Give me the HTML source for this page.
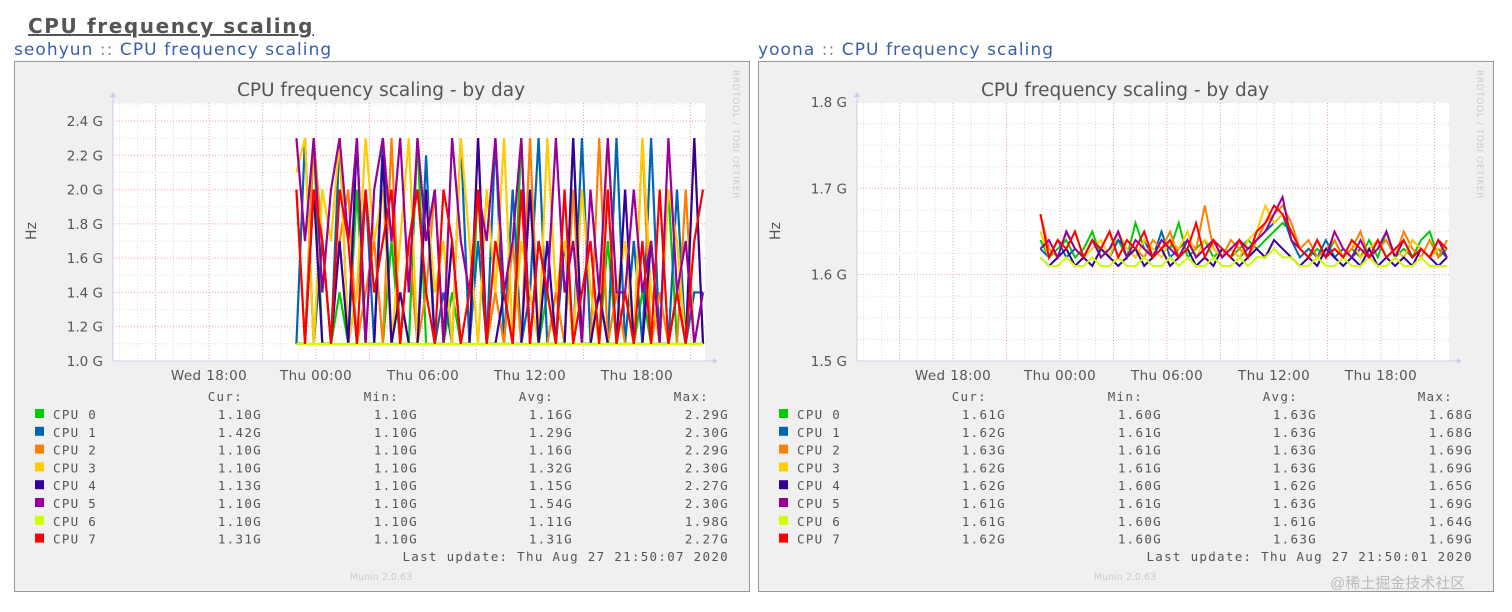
<!DOCTYPE html>
<html><head><meta charset="utf-8">
<style>
html,body{margin:0;padding:0;background:#fff;width:1512px;height:612px;overflow:hidden}
svg{display:block}
</style></head>
<body>
<svg id="root" width="1512" height="612" xmlns="http://www.w3.org/2000/svg">
<text x="28" y="33" font-family="DejaVu Sans, Liberation Sans, sans-serif" font-size="20" font-weight="bold" fill="#555" text-decoration="underline" letter-spacing="1.6">CPU frequency scaling</text>
<text x="14" y="55" font-family="DejaVu Sans, Liberation Sans, sans-serif" font-size="17" fill="#3a5ea8" letter-spacing="1.05">seohyun <tspan fill="#888">::</tspan> CPU frequency scaling</text>
<text x="758" y="55" font-family="DejaVu Sans, Liberation Sans, sans-serif" font-size="17" fill="#3a5ea8" letter-spacing="1.05">yoona <tspan fill="#888">::</tspan> CPU frequency scaling</text>
<g id="c1"></g>
<g id="c2"></g>
<text x="1330" y="588" font-family="Liberation Sans, Noto Sans CJK SC, sans-serif" font-size="15" fill="#bbb">@稀土掘金技术社区</text>
</svg>
<script>
const cpuNames = ["CPU 0","CPU 1","CPU 2","CPU 3","CPU 4","CPU 5","CPU 6","CPU 7"];
const cpuColors = ["#00cc00","#0066b3","#ff8000","#ffcc00","#330099","#990099","#ccff00","#ff0000"];
const timeLabels = ["Wed 18:00","Thu 00:00","Thu 06:00","Thu 12:00","Thu 18:00"];
const timeLabelHours = [0,6,12,18,24];
const dataStartHour = 4.9;
const dataEndHour = 27.7;

const leftTicks = [1.0,1.2,1.4,1.6,1.8,2.0,2.2,2.4];
const leftS0 = [1.1,1.1,2.3,1.1,1.1,1.4,1.1,2.0,1.1,1.1,1.1,1.7,1.1,1.1,2.3,1.1,1.1,1.1,1.4,1.1,1.1,2.0,1.1,1.1,1.1,1.1,2.3,1.1,1.1,1.4,1.1,1.1,2.3,1.1,1.1,1.1,1.7,1.1,1.1,1.1,1.4,1.1,1.1,2.0,1.1,1.1,1.1,1.1];
const leftS1 = [1.1,2.3,1.1,1.7,1.1,2.3,1.1,1.4,2.0,1.1,2.3,1.1,1.1,1.7,1.1,2.2,1.1,1.4,1.1,2.3,1.1,1.7,1.1,2.3,1.1,2.0,1.1,1.4,2.3,1.1,1.1,1.7,1.1,2.3,1.1,1.4,1.1,2.3,1.1,1.7,1.1,2.3,1.1,1.1,2.0,1.1,1.4,1.4];
const leftS2 = [2.0,1.1,2.3,1.7,1.1,1.7,2.0,1.1,1.4,1.7,1.1,2.3,1.1,1.7,1.1,1.4,2.0,1.1,1.7,1.1,1.1,2.3,1.1,1.4,1.1,1.7,1.1,2.3,1.1,1.1,1.4,1.1,2.0,1.1,1.1,2.3,1.1,1.4,1.1,1.1,2.3,1.1,1.4,1.1,1.1,2.0,1.1,1.1];
const leftS3 = [2.1,2.3,1.1,2.0,1.7,2.3,1.1,1.4,2.3,1.7,2.0,1.1,1.7,2.3,1.1,2.0,1.4,1.7,1.1,2.3,1.7,1.1,2.0,1.4,2.3,1.1,1.7,1.4,1.1,2.3,1.4,1.7,1.1,2.0,1.4,1.1,2.3,1.4,1.7,1.1,2.3,1.4,1.1,2.0,1.7,1.1,2.3,1.1];
const leftS4 = [1.1,1.1,2.0,1.1,1.1,1.7,1.1,2.3,1.1,1.1,2.2,1.1,1.4,1.1,1.1,2.0,1.1,1.1,1.7,1.1,1.1,2.3,1.1,1.1,1.4,1.1,1.1,2.0,1.1,1.7,1.1,1.1,2.3,1.1,1.1,1.4,1.1,1.1,2.0,1.1,1.1,1.7,1.1,1.1,1.4,1.1,2.3,1.1];
const leftS5 = [2.3,1.7,2.3,1.4,2.0,2.3,1.7,2.3,1.1,2.0,2.3,1.7,2.3,1.4,2.3,1.7,2.0,1.1,2.3,1.7,1.4,2.0,1.7,2.3,1.4,1.7,2.3,1.1,1.7,1.4,2.3,1.4,1.7,1.1,2.0,1.4,2.3,1.4,1.4,2.0,1.4,1.7,1.1,2.3,1.4,1.7,1.1,1.4];
const leftS6 = [1.1,1.1,1.1,1.1,1.1,1.1,1.1,1.1,1.1,1.1,1.1,1.1,1.1,1.1,1.1,1.1,1.1,1.1,1.1,1.1,1.1,1.1,1.1,1.1,1.1,1.1,1.1,1.1,1.1,1.1,1.1,1.1,1.1,1.1,1.1,1.1,1.1,1.1,1.1,1.1,1.1,1.1,1.1,1.1,1.1,1.1,1.1,1.1];
const leftS7 = [2.0,1.1,2.0,1.7,1.1,2.0,1.7,1.1,2.0,1.4,1.7,2.0,1.1,1.7,2.0,1.4,1.1,2.0,1.7,1.1,1.4,2.0,1.1,1.7,1.4,1.1,2.0,1.1,1.7,1.4,1.1,2.0,1.1,1.4,1.7,1.1,2.0,1.1,1.4,1.1,1.7,1.1,2.0,1.1,1.4,1.1,1.7,2.0];
const leftCur = ["1.10G","1.42G","1.10G","1.10G","1.13G","1.10G","1.10G","1.31G"];
const leftMin = ["1.10G","1.10G","1.10G","1.10G","1.10G","1.10G","1.10G","1.10G"];
const leftAvg = ["1.16G","1.29G","1.16G","1.32G","1.15G","1.54G","1.11G","1.31G"];
const leftMax = ["2.29G","2.30G","2.29G","2.30G","2.27G","2.30G","1.98G","2.27G"];

const rightTicks = [1.5,1.6,1.7,1.8];
const rightS0 = [1.64,1.62,1.63,1.64,1.62,1.63,1.65,1.62,1.63,1.64,1.62,1.66,1.63,1.62,1.64,1.63,1.66,1.62,1.63,1.64,1.62,1.63,1.62,1.63,1.64,1.63,1.64,1.65,1.66,1.65,1.63,1.62,1.63,1.62,1.64,1.62,1.63,1.62,1.64,1.62,1.65,1.62,1.63,1.62,1.64,1.65,1.62,1.63];
const rightS1 = [1.63,1.62,1.64,1.62,1.63,1.62,1.64,1.63,1.62,1.64,1.63,1.62,1.64,1.62,1.65,1.62,1.63,1.64,1.62,1.63,1.64,1.62,1.63,1.62,1.63,1.64,1.65,1.66,1.67,1.64,1.62,1.63,1.62,1.64,1.62,1.63,1.62,1.63,1.62,1.64,1.62,1.63,1.62,1.64,1.63,1.62,1.63,1.62];
const rightS2 = [1.67,1.63,1.62,1.65,1.63,1.62,1.64,1.63,1.65,1.62,1.64,1.63,1.62,1.64,1.63,1.65,1.62,1.64,1.63,1.68,1.63,1.62,1.64,1.63,1.62,1.64,1.66,1.67,1.68,1.66,1.63,1.64,1.62,1.63,1.64,1.62,1.63,1.65,1.62,1.63,1.64,1.62,1.65,1.63,1.62,1.64,1.62,1.64];
const rightS3 = [1.65,1.62,1.64,1.63,1.65,1.62,1.63,1.64,1.62,1.65,1.63,1.62,1.64,1.63,1.62,1.64,1.63,1.65,1.62,1.64,1.63,1.62,1.63,1.62,1.64,1.65,1.68,1.66,1.67,1.65,1.63,1.62,1.64,1.62,1.63,1.62,1.64,1.62,1.63,1.64,1.62,1.63,1.62,1.64,1.63,1.62,1.63,1.63];
const rightS4 = [1.62,1.61,1.62,1.63,1.61,1.62,1.61,1.63,1.62,1.61,1.62,1.63,1.61,1.62,1.63,1.61,1.62,1.63,1.61,1.62,1.61,1.63,1.62,1.61,1.62,1.63,1.62,1.64,1.63,1.62,1.61,1.62,1.61,1.63,1.62,1.61,1.62,1.61,1.63,1.61,1.62,1.61,1.62,1.61,1.63,1.62,1.61,1.62];
const rightS5 = [1.63,1.64,1.62,1.65,1.63,1.62,1.64,1.62,1.63,1.65,1.62,1.64,1.63,1.62,1.64,1.63,1.62,1.64,1.62,1.63,1.64,1.62,1.63,1.64,1.63,1.64,1.65,1.67,1.69,1.64,1.63,1.62,1.64,1.62,1.65,1.63,1.62,1.64,1.62,1.63,1.65,1.62,1.64,1.62,1.63,1.62,1.64,1.62];
const rightS6 = [1.62,1.61,1.61,1.62,1.61,1.61,1.62,1.61,1.61,1.62,1.61,1.61,1.62,1.61,1.61,1.62,1.61,1.62,1.61,1.61,1.62,1.61,1.61,1.62,1.61,1.62,1.62,1.63,1.62,1.62,1.61,1.61,1.62,1.61,1.61,1.62,1.61,1.61,1.62,1.61,1.61,1.62,1.61,1.61,1.62,1.61,1.61,1.61];
const rightS7 = [1.67,1.62,1.64,1.63,1.65,1.62,1.64,1.63,1.65,1.62,1.64,1.63,1.65,1.62,1.63,1.64,1.62,1.63,1.66,1.62,1.64,1.63,1.62,1.64,1.62,1.65,1.66,1.68,1.67,1.65,1.63,1.62,1.64,1.62,1.63,1.62,1.64,1.63,1.62,1.64,1.62,1.63,1.64,1.62,1.63,1.62,1.64,1.63];
const rightCur = ["1.61G","1.62G","1.63G","1.62G","1.62G","1.61G","1.61G","1.62G"];
const rightMin = ["1.60G","1.61G","1.61G","1.61G","1.60G","1.61G","1.60G","1.60G"];
const rightAvg = ["1.63G","1.63G","1.63G","1.63G","1.62G","1.63G","1.61G","1.63G"];
const rightMax = ["1.68G","1.68G","1.69G","1.69G","1.65G","1.69G","1.64G","1.69G"];

const NS = "http://www.w3.org/2000/svg";
function mk(parent, tag, attrs, text){
  const e = document.createElementNS(NS, tag);
  for (const k in attrs) e.setAttribute(k, attrs[k]);
  if (text !== undefined) e.textContent = text;
  parent.appendChild(e);
  return e;
}

function drawChart(g, ox, series, ticks, tickStep, minorStep, cur, mn, avg, mx, lastUpdate, lineW){
  const L = ox + 113, R = ox + 705, B = 361, T = 103;
  const vMin = ticks[0], vMax = ticks[ticks.length-1];
  const topTickY = ticks.length > 4 ? 121 : 102;
  const yScale = v => B - (v - vMin) / (vMax - vMin) * (B - topTickY);
  const xScale = h => ox + 209 + h * (107 / 6);
  const sans = "DejaVu Sans, sans-serif";

  const panel = mk(g, "rect", {x: ox+14.5, y: 61.5, width: 735, height: 530, fill: "#f0f0f0", stroke: "#999"});
  
  
  const plot = mk(g, "rect", {x: L, y: T, width: R-L, height: B-T, fill: "#fff"});
  
  

  for (let h = -5; h <= 29; h++){
    const x = xScale(h);
    if (x <= L || x >= R) continue;
    const major = ((h % 3) + 3) % 3 === 0;
    mk(g, "line", {x1: x, x2: x, y1: T, y2: B, stroke: major ? "#f2a0a0" : "#ddd", "stroke-width": 1, "stroke-dasharray": "1,2"});
  }
  for (let v = vMin; v <= vMax + 0.0001 + (ticks.length>4?0.1:0); v += minorStep){
    const y = yScale(v);
    if (y < T) continue;
    const isMajor = Math.abs(((v - vMin) / tickStep) - Math.round((v - vMin) / tickStep)) < 0.01;
    mk(g, "line", {x1: L, x2: R, y1: y, y2: y, stroke: isMajor ? "#f2a0a0" : "#ddd", "stroke-width": 1, "stroke-dasharray": "1,2"});
  }
  mk(g, "line", {x1: L, x2: R+8, y1: B, y2: B, stroke: "#ccccee", "stroke-width": 1});
  mk(g, "line", {x1: L, x2: L, y1: B, y2: T-8, stroke: "#ccccee", "stroke-width": 1});
  mk(g, "path", {d: `M${R+8} ${B-3} L${R+13} ${B} L${R+8} ${B+3} Z`, fill: "#ccccee"});
  mk(g, "path", {d: `M${L-3} ${T-6} L${L} ${T-11} L${L+3} ${T-6} Z`, fill: "#ccccee"});

  ticks.forEach(v => {
    const t = mk(g, "text", {x: ox+103, y: yScale(v)+5, "text-anchor": "end", "font-family": sans, "font-size": 13.5, fill: "#555"}, v.toFixed(1) + " G");
    
    
  });
  timeLabels.forEach((lab, i) => {
    const t = mk(g, "text", {x: xScale(timeLabelHours[i]), y: 380, "text-anchor": "middle", "font-family": sans, "font-size": 13.5, "letter-spacing": 0.4, fill: "#555"}, lab);
    
    
  });
  const yt = mk(g, "text", {x: ox+36, y: 231, transform: `rotate(-90 ${ox+36} 231)`, "text-anchor": "middle", "font-family": sans, "font-size": 14, fill: "#555"}, "Hz");
  
  
  const ct = mk(g, "text", {x: ox+381, y: 96, "text-anchor": "middle", "font-family": sans, "font-size": 18.5, fill: "#555"}, "CPU frequency scaling - by day");
  
  
  const rr = mk(g, "text", {x: ox+733, y: 70, transform: `rotate(90 ${ox+733} 70)`, "font-family": sans, "font-size": 9, "letter-spacing": 0.6, fill: "#ccc"}, "RRDTOOL / TOBI OETIKER");
  
  

  series.forEach((vals, si) => {
    const n = vals.length;
    const pts = vals.map((v, i) => xScale(dataStartHour + (dataEndHour - dataStartHour) * i / (n - 1)).toFixed(1) + "," + yScale(v).toFixed(1)).join(" ");
    const pl = mk(g, "polyline", {points: pts, fill: "none", stroke: cpuColors[si], "stroke-width": lineW, "stroke-linejoin": "miter"});
    
    
  });

  const mono = "DejaVu Sans Mono, Liberation Mono, monospace";
  const ls = 1.3;
  const hdr = [["Cur:", 243], ["Min:", 399], ["Avg:", 554], ["Max:", 709]];
  hdr.forEach(([t, x]) => {
    const h = mk(g, "text", {x: ox+x, y: 401, "text-anchor": "end", "font-family": mono, "font-size": 12.5, "letter-spacing": ls, fill: "#555"}, t);
    
    
  });
  cpuNames.forEach((name, i) => {
    const y = 419 + i * 17.8;
    const sw = mk(g, "rect", {x: ox+35, y: y-10, width: 9, height: 9, fill: cpuColors[i]});
    
    
    const lt = mk(g, "text", {x: ox+53, y: y, "font-family": mono, "font-size": 12.5, "letter-spacing": ls, fill: "#555"}, name);
    
    
    [[cur, 262], [mn, 418], [avg, 573], [mx, 729]].forEach(([arr, x]) => {
      const vt = mk(g, "text", {x: ox+x, y: y, "text-anchor": "end", "font-family": mono, "font-size": 12.5, "letter-spacing": ls, fill: "#555"}, arr[i]);
      
      
    });
  });
  const lu = mk(g, "text", {x: ox+729, y: 561, "text-anchor": "end", "font-family": mono, "font-size": 12.5, "letter-spacing": ls, fill: "#555"}, "Last update: " + lastUpdate);
  
  
  const mv = mk(g, "text", {x: ox+381, y: 580, "text-anchor": "middle", "font-family": sans, "font-size": 9.5, fill: "#ccc"}, "Munin 2.0.63");
  
  
}

drawChart(document.getElementById("c1"), 0,
  [leftS0,leftS1,leftS2,leftS3,leftS4,leftS5,leftS6,leftS7], leftTicks, 0.2, 0.1,
  leftCur, leftMin, leftAvg, leftMax, "Thu Aug 27 21:50:07 2020", 2.2);
drawChart(document.getElementById("c2"), 744,
  [rightS0,rightS1,rightS2,rightS3,rightS4,rightS5,rightS6,rightS7], rightTicks, 0.1, 0.025,
  rightCur, rightMin, rightAvg, rightMax, "Thu Aug 27 21:50:01 2020", 2);
</script>
</body></html>
